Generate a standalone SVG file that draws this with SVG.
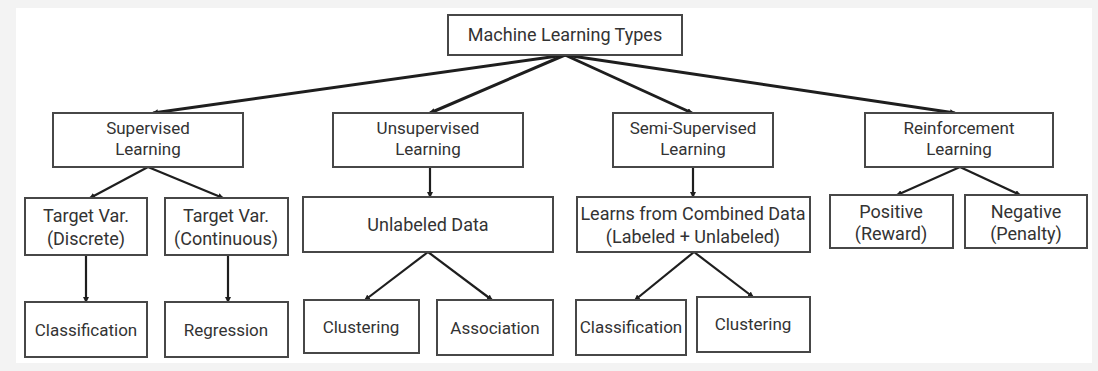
<svg xmlns="http://www.w3.org/2000/svg" width="1098" height="371" viewBox="0 0 1098 371">
  <style>
    .box { fill: #ffffff; stroke: #474747; stroke-width: 2; }
    .lbl { font-family: Roboto, "Noto Sans", sans-serif; fill: #333333; text-anchor: middle; }
    .t17 { font-size: 17px; }
    .t18 { font-size: 18px; }
    .link { stroke: #1e1e1e; stroke-width: 2.2; fill: none; marker-end: url(#tip); }
    .link.main { stroke-width: 3; }
  </style>
  <defs>
    <marker id="tip" viewBox="0 0 6 6" refX="5" refY="3" markerWidth="6" markerHeight="6" markerUnits="userSpaceOnUse" orient="auto">
      <path d="M0,0 L6,3 L0,6 z" fill="#1e1e1e"/>
    </marker>
  </defs>

  <!-- page -->
  <rect x="0" y="0" width="1098" height="371" fill="#f3f3f3"/>
  <rect x="16" y="8" width="1076" height="355" fill="#ffffff"/>

  <!-- connectors -->
  <g id="connectors">
    <line class="link main" x1="565" y1="55" x2="153" y2="113"/>
    <line class="link main" x1="565" y1="55" x2="430" y2="113"/>
    <line class="link main" x1="565" y1="55" x2="692" y2="113"/>
    <line class="link main" x1="565" y1="55" x2="955" y2="113"/>

    <line class="link" x1="148" y1="167" x2="90" y2="198"/>
    <line class="link" x1="148" y1="167" x2="223" y2="198"/>
    <line class="link" x1="86" y1="255" x2="86" y2="302"/>
    <line class="link" x1="228" y1="255" x2="228" y2="302"/>

    <line class="link" x1="430" y1="167" x2="430" y2="197"/>
    <line class="link" x1="428" y1="252" x2="365" y2="300"/>
    <line class="link" x1="428" y1="252" x2="492" y2="300"/>

    <line class="link" x1="693" y1="167" x2="693" y2="197"/>
    <line class="link" x1="694" y1="252" x2="635" y2="300"/>
    <line class="link" x1="694" y1="252" x2="753" y2="297"/>

    <line class="link" x1="960" y1="167" x2="897" y2="195"/>
    <line class="link" x1="960" y1="167" x2="1020" y2="195"/>
  </g>

  <!-- level 0 -->
  <g id="ml-types">
    <rect class="box" x="448" y="15" width="234" height="40"/>
    <text class="lbl t18" x="565" y="41">Machine Learning Types</text>
  </g>

  <!-- level 1 -->
  <g id="supervised">
    <rect class="box" x="53" y="113" width="190" height="54"/>
    <text class="lbl t17" x="148" y="134">Supervised</text>
    <text class="lbl t17" x="148" y="155">Learning</text>
  </g>
  <g id="unsupervised">
    <rect class="box" x="333" y="113" width="190" height="54"/>
    <text class="lbl t17" x="428" y="134">Unsupervised</text>
    <text class="lbl t17" x="428" y="155">Learning</text>
  </g>
  <g id="semi-supervised">
    <rect class="box" x="613" y="113" width="160" height="54"/>
    <text class="lbl t17" x="693" y="134">Semi-Supervised</text>
    <text class="lbl t17" x="693" y="155">Learning</text>
  </g>
  <g id="reinforcement">
    <rect class="box" x="865" y="113" width="188" height="54"/>
    <text class="lbl t17" x="959" y="134">Reinforcement</text>
    <text class="lbl t17" x="959" y="155">Learning</text>
  </g>

  <!-- level 2 -->
  <g id="target-discrete">
    <rect class="box" x="25" y="198" width="122" height="57"/>
    <text class="lbl t18" x="86" y="222">Target Var.</text>
    <text class="lbl t18" x="86" y="245">(Discrete)</text>
  </g>
  <g id="target-continuous">
    <rect class="box" x="165" y="198" width="123" height="57"/>
    <text class="lbl t18" x="226" y="222">Target Var.</text>
    <text class="lbl t18" x="226" y="245">(Continuous)</text>
  </g>
  <g id="unlabeled-data">
    <rect class="box" x="303" y="197" width="250" height="55"/>
    <text class="lbl t18" x="428" y="231">Unlabeled Data</text>
  </g>
  <g id="combined-data">
    <rect class="box" x="577" y="197" width="233" height="55"/>
    <text class="lbl t18" x="693" y="220">Learns from Combined Data</text>
    <text class="lbl t18" x="693" y="243">(Labeled + Unlabeled)</text>
  </g>
  <g id="positive">
    <rect class="box" x="830" y="195" width="123" height="53"/>
    <text class="lbl t18" x="891" y="218">Positive</text>
    <text class="lbl t18" x="891" y="240">(Reward)</text>
  </g>
  <g id="negative">
    <rect class="box" x="965" y="195" width="122" height="53"/>
    <text class="lbl t18" x="1026" y="218">Negative</text>
    <text class="lbl t18" x="1026" y="240">(Penalty)</text>
  </g>

  <!-- level 3 -->
  <g id="classification-supervised">
    <rect class="box" x="25" y="302" width="122" height="55"/>
    <text class="lbl t17" x="86" y="336">Classification</text>
  </g>
  <g id="regression">
    <rect class="box" x="165" y="302" width="123" height="55"/>
    <text class="lbl t17" x="226" y="336">Regression</text>
  </g>
  <g id="clustering-unsupervised">
    <rect class="box" x="304" y="300" width="115" height="53"/>
    <text class="lbl t17" x="361" y="333">Clustering</text>
  </g>
  <g id="association">
    <rect class="box" x="437" y="300" width="116" height="55"/>
    <text class="lbl t17" x="495" y="334">Association</text>
  </g>
  <g id="classification-semi">
    <rect class="box" x="576" y="300" width="110" height="55"/>
    <text class="lbl t17" x="631" y="333">Classification</text>
  </g>
  <g id="clustering-semi">
    <rect class="box" x="697" y="297" width="113" height="55"/>
    <text class="lbl t17" x="753" y="330">Clustering</text>
  </g>
</svg>
